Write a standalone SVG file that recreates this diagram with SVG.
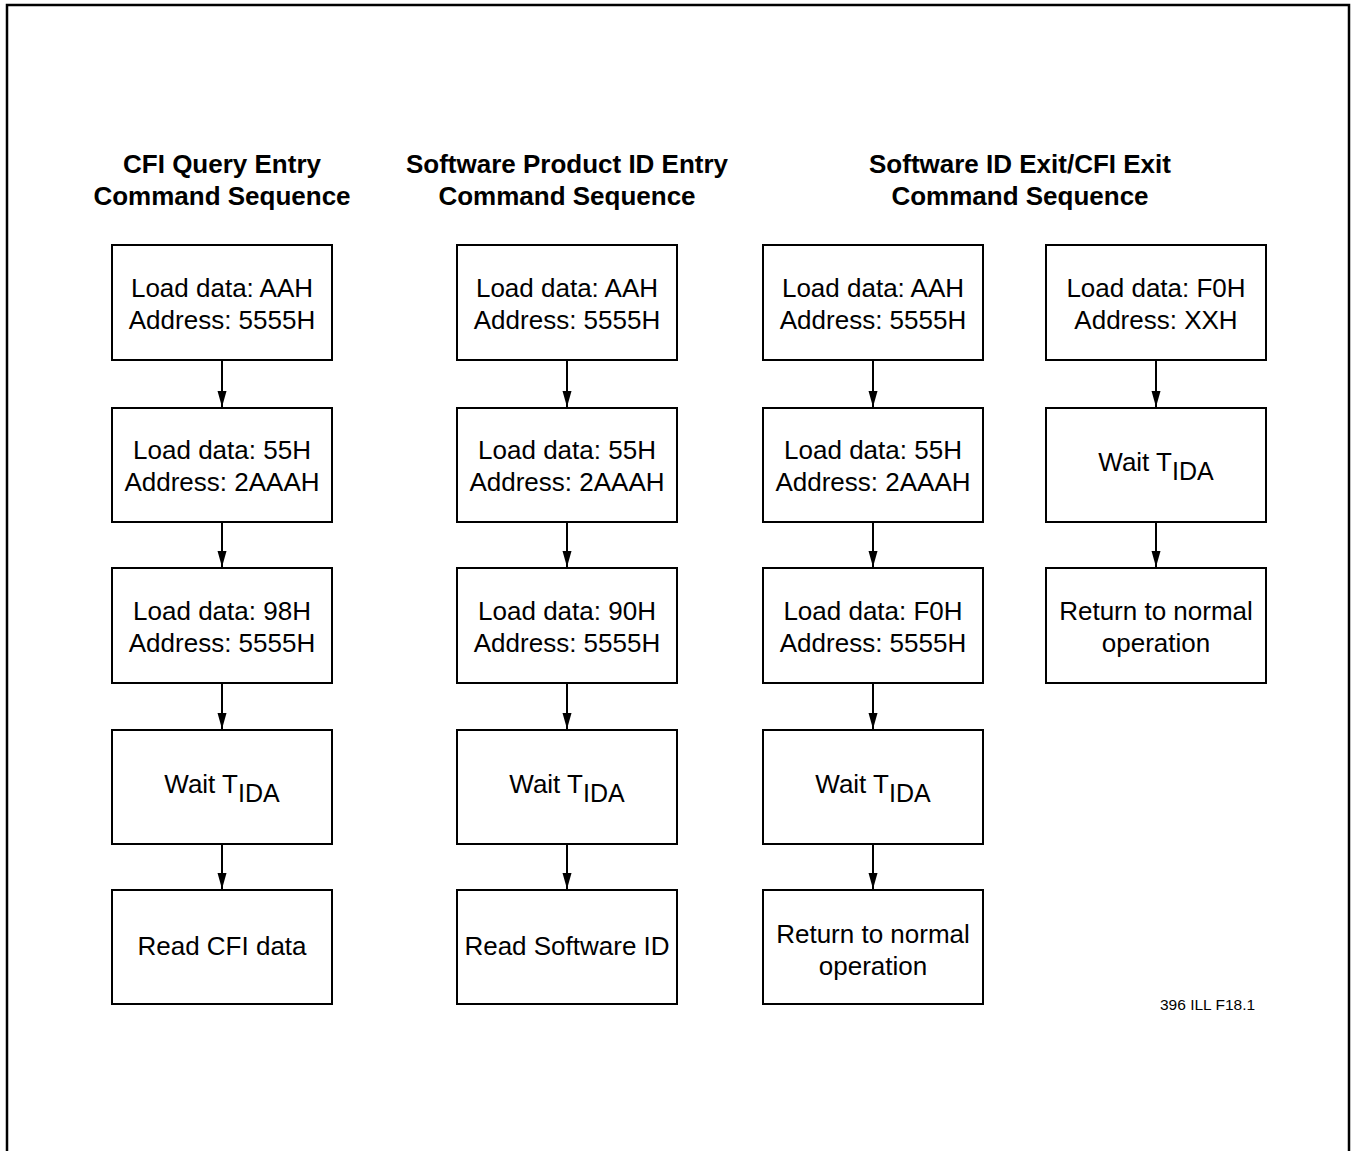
<svg xmlns="http://www.w3.org/2000/svg" width="1352" height="1151" viewBox="0 0 1352 1151">
<style>
.frame{fill:none;stroke:#000;stroke-width:2.5}
.box{fill:#fff;stroke:#000;stroke-width:2}
.t{font-family:"Liberation Sans",Arial,sans-serif;font-size:26px;fill:#000;text-anchor:middle}
.h{font-family:"Liberation Sans",Arial,sans-serif;font-size:26px;font-weight:bold;fill:#000;text-anchor:middle}
.s{font-family:"Liberation Sans",Arial,sans-serif;font-size:15.5px;fill:#000}
.c{fill:none;stroke:#000;stroke-width:2}
</style>
<defs>
<marker id="ah" markerUnits="userSpaceOnUse" markerWidth="16" markerHeight="10" refX="16" refY="5" orient="auto">
<path d="M0,0.5 L16,5 L0,9.5 z" fill="#000"/>
</marker>
</defs>
<rect width="1352" height="1151" fill="#fff"/>
<rect class="frame" x="7" y="5" width="1342" height="1170"/>

<g id="titles">
<text class="h" x="222" y="173">CFI Query Entry</text>
<text class="h" x="222" y="205">Command Sequence</text>
<text class="h" x="567" y="173">Software Product ID Entry</text>
<text class="h" x="567" y="205">Command Sequence</text>
<text class="h" x="1020" y="173">Software ID Exit/CFI Exit</text>
<text class="h" x="1020" y="205">Command Sequence</text>
</g>

<g id="connectors">
<line class="c" x1="222" y1="361" x2="222" y2="407" marker-end="url(#ah)"/>
<line class="c" x1="222" y1="523" x2="222" y2="567" marker-end="url(#ah)"/>
<line class="c" x1="222" y1="684" x2="222" y2="729" marker-end="url(#ah)"/>
<line class="c" x1="222" y1="845" x2="222" y2="889" marker-end="url(#ah)"/>
<line class="c" x1="567" y1="361" x2="567" y2="407" marker-end="url(#ah)"/>
<line class="c" x1="567" y1="523" x2="567" y2="567" marker-end="url(#ah)"/>
<line class="c" x1="567" y1="684" x2="567" y2="729" marker-end="url(#ah)"/>
<line class="c" x1="567" y1="845" x2="567" y2="889" marker-end="url(#ah)"/>
<line class="c" x1="873" y1="361" x2="873" y2="407" marker-end="url(#ah)"/>
<line class="c" x1="873" y1="523" x2="873" y2="567" marker-end="url(#ah)"/>
<line class="c" x1="873" y1="684" x2="873" y2="729" marker-end="url(#ah)"/>
<line class="c" x1="873" y1="845" x2="873" y2="889" marker-end="url(#ah)"/>
<line class="c" x1="1156" y1="361" x2="1156" y2="407" marker-end="url(#ah)"/>
<line class="c" x1="1156" y1="523" x2="1156" y2="567" marker-end="url(#ah)"/>
</g>

<g id="c1n1"><rect class="box" x="112" y="245" width="220" height="115"/>
<text class="t" x="222" y="297">Load data: AAH</text><text class="t" x="222" y="329">Address: 5555H</text></g>
<g id="c1n2"><rect class="box" x="112" y="408" width="220" height="114"/>
<text class="t" x="222" y="459">Load data: 55H</text><text class="t" x="222" y="491">Address: 2AAAH</text></g>
<g id="c1n3"><rect class="box" x="112" y="568" width="220" height="115"/>
<text class="t" x="222" y="620">Load data: 98H</text><text class="t" x="222" y="652">Address: 5555H</text></g>
<g id="c1n4"><rect class="box" x="112" y="730" width="220" height="114"/>
<text class="t" x="222" y="793">Wait T<tspan dy="9" font-size="25">IDA</tspan></text></g>
<g id="c1n5"><rect class="box" x="112" y="890" width="220" height="114"/>
<text class="t" x="222" y="955">Read CFI data</text></g>

<g id="c2n1"><rect class="box" x="457" y="245" width="220" height="115"/>
<text class="t" x="567" y="297">Load data: AAH</text><text class="t" x="567" y="329">Address: 5555H</text></g>
<g id="c2n2"><rect class="box" x="457" y="408" width="220" height="114"/>
<text class="t" x="567" y="459">Load data: 55H</text><text class="t" x="567" y="491">Address: 2AAAH</text></g>
<g id="c2n3"><rect class="box" x="457" y="568" width="220" height="115"/>
<text class="t" x="567" y="620">Load data: 90H</text><text class="t" x="567" y="652">Address: 5555H</text></g>
<g id="c2n4"><rect class="box" x="457" y="730" width="220" height="114"/>
<text class="t" x="567" y="793">Wait T<tspan dy="9" font-size="25">IDA</tspan></text></g>
<g id="c2n5"><rect class="box" x="457" y="890" width="220" height="114"/>
<text class="t" x="567" y="955">Read Software ID</text></g>

<g id="c3n1"><rect class="box" x="763" y="245" width="220" height="115"/>
<text class="t" x="873" y="297">Load data: AAH</text><text class="t" x="873" y="329">Address: 5555H</text></g>
<g id="c3n2"><rect class="box" x="763" y="408" width="220" height="114"/>
<text class="t" x="873" y="459">Load data: 55H</text><text class="t" x="873" y="491">Address: 2AAAH</text></g>
<g id="c3n3"><rect class="box" x="763" y="568" width="220" height="115"/>
<text class="t" x="873" y="620">Load data: F0H</text><text class="t" x="873" y="652">Address: 5555H</text></g>
<g id="c3n4"><rect class="box" x="763" y="730" width="220" height="114"/>
<text class="t" x="873" y="793">Wait T<tspan dy="9" font-size="25">IDA</tspan></text></g>
<g id="c3n5"><rect class="box" x="763" y="890" width="220" height="114"/>
<text class="t" x="873" y="943">Return to normal</text><text class="t" x="873" y="975">operation</text></g>

<g id="c4n1"><rect class="box" x="1046" y="245" width="220" height="115"/>
<text class="t" x="1156" y="297">Load data: F0H</text><text class="t" x="1156" y="329">Address: XXH</text></g>
<g id="c4n2"><rect class="box" x="1046" y="408" width="220" height="114"/>
<text class="t" x="1156" y="471">Wait T<tspan dy="9" font-size="25">IDA</tspan></text></g>
<g id="c4n3"><rect class="box" x="1046" y="568" width="220" height="115"/>
<text class="t" x="1156" y="620">Return to normal</text><text class="t" x="1156" y="652">operation</text></g>

<text class="s" x="1160" y="1010">396 ILL F18.1</text>
</svg>
